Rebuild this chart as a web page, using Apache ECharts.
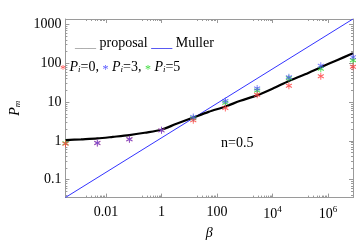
<!DOCTYPE html>
<html><head><meta charset="utf-8">
<script src="https://cdn.jsdelivr.net/npm/echarts@6/dist/echarts.min.js"></script>
<style>html,body{margin:0;padding:0;background:#fff}#c{width:356px;height:245px}</style>
</head><body><div id="c"></div>
<script>
// ---- data (real values) ----
const betaPts = [3.5e-4, 4.9e-3, 0.07, 1, 14, 200, 2800, 3.9e4, 5.5e5, 7.9e6];
const pRed   = [0.85, 0.88, 1.1, 1.87, 3.42, 7.0, 15.5, 26.3, 46, 81];
const pGreen = [0.87, null, null, null, 3.83, 9.6, 19.8, 41.3, 72.6, 120];
const pBlue  = [null, 0.88, 1.1, 1.87, 4.12, 10.6, 22.5, 43.7, 86, 144];
const betaCurve = [3.5e-4, 1.26e-3, 4.9e-3, 0.0178, 0.07, 0.25, 1, 3.3, 14, 50, 200, 700, 2800, 1e4, 3.9e4, 1.5e5, 5.5e5, 2e6, 7.9e6];
const pCurve    = [1.05, 1.1, 1.16, 1.27, 1.41, 1.62, 1.94, 2.72, 4.0, 5.6, 7.7, 10.8, 14.9, 22, 35, 52, 79, 118, 180];
const mullerBeta = [3.5e-4, 7.9e6];
const mullerP    = [0.035, 1380];
const xTickLabels = ['0.01', '1', '100', '10{sup|4}', '10{sup|6}'];
const xTickVals = [0.01, 1, 100, 1e4, 1e6];
const yTickLabels = ['0.1', '1', '10', '100', '1000'];
const yTickVals = [0.1, 1, 10, 100, 1000];

const L = Math.log10;
const XMIN = -3.46, XMAX = 6.9, YMIN = -1.46, YMAX = 3.14;
const xMaj = xTickVals.map(L);
const yMaj = yTickVals.map(L);
const xMin = [], yMin = [];
xMaj.forEach(d => { for (let k = 2; k <= 9; k++) { const v = d - 1 + L(k); if (v > XMIN && v < XMAX) xMin.push(v); } });
for (let d = -2; d <= 3; d++) for (let k = 2; k <= 9; k++) { const v = d + L(k); if (v > YMIN && v < YMAX) yMin.push(v); }

const FONT = 'Liberation Serif';
const AX = '#9a9a9a';
function xl(v) { const i = xMaj.findIndex(m => Math.abs(m - v) < 1e-6); return i < 0 ? '' : xTickLabels[i]; }
function yl(v) { const i = yMaj.findIndex(m => Math.abs(m - v) < 1e-6); return i < 0 ? '' : yTickLabels[i]; }

function xa(pos, vals, len, line, opts) {
  return Object.assign({
    type: 'value', position: pos, min: XMIN, max: XMAX,
    splitLine: { show: false },
    axisLine: { show: line, onZero: false, lineStyle: { color: AX, width: 1 } },
    axisTick: { show: true, inside: true, length: len, customValues: vals, lineStyle: { color: AX } },
    axisLabel: { show: false }
  }, opts || {});
}
function ya(pos, vals, len, line, opts) {
  return Object.assign({
    type: 'value', position: pos, min: YMIN, max: YMAX,
    splitLine: { show: false },
    axisLine: { show: line, onZero: false, lineStyle: { color: AX, width: 1 } },
    axisTick: { show: true, inside: true, length: len, customValues: vals, lineStyle: { color: AX } },
    axisLabel: { show: false }
  }, opts || {});
}

const star = 'path://M0,-5L0,5M-4.33,-2.5L4.33,2.5M-4.33,2.5L4.33,-2.5';
function pts(ys) { return betaPts.map((b, i) => ys[i] == null ? null : [L(b), L(ys[i])]).filter(p => p); }
function scat(ys, c, op) {
  return { type: 'scatter', xAxisIndex: 0, yAxisIndex: 0, symbol: star, symbolSize: [6, 7], data: pts(ys),
    itemStyle: { color: 'transparent', borderColor: c, borderWidth: 1, opacity: op }, z: 5, silent: true };
}

const chart = echarts.init(document.getElementById('c'), null, { renderer: 'canvas' });
chart.setOption({
  animation: false,
  textStyle: { fontFamily: FONT },
  grid: { left: 52, top: 19, right: 3, bottom: 39, containLabel: false },
  title: [
    { left: 75, top: 36, padding: 0, text: '{g|___} proposal {b|___} Muller',
      textStyle: { fontFamily: FONT, fontSize: 14, fontWeight: 'normal', color: '#000',
        rich: { g: { color: '#999999', fontFamily: FONT, fontSize: 14 }, b: { color: '#2222ee', fontFamily: FONT, fontSize: 14 } } } },
    { left: 60, top: 58, padding: 0, text: '{r|*} {i|P}{s|i}=0, {bl|*} {i|P}{s|i}=3, {gr|*} {i|P}{s|i}=5',
      textStyle: { fontFamily: FONT, fontSize: 14, fontWeight: 'normal', color: '#000',
        rich: {
          r: { color: '#ff5555', fontSize: 12, padding: [6, 0, 0, 0], fontFamily: FONT },
          bl: { color: '#5555ff', fontSize: 12, padding: [6, 0, 0, 0], fontFamily: FONT },
          gr: { color: '#44dd44', fontSize: 12, padding: [6, 0, 0, 0], fontFamily: FONT },
          i: { fontStyle: 'italic', fontSize: 14, fontFamily: FONT },
          s: { fontStyle: 'italic', fontSize: 9, padding: [6, 0, 0, 0], fontFamily: FONT }
        } } },
    { left: 221, top: 136, padding: 0, text: 'n=0.5', textStyle: { fontFamily: FONT, fontSize: 14, fontWeight: 'normal', color: '#000' } }
  ],
  xAxis: [
    xa('bottom', xMaj, 4, true, {
      axisLabel: { show: true, customValues: xMaj, margin: 8, color: '#000', fontFamily: FONT, fontSize: 14,
        formatter: v => xl(v), rich: { sup: { fontSize: 9, verticalAlign: 'top', padding: [0, 0, 8, 0], fontFamily: FONT } } },
      name: 'β', nameLocation: 'middle', nameGap: 28,
      nameTextStyle: { fontFamily: FONT, fontStyle: 'italic', fontSize: 14, color: '#000' }
    }),
    xa('bottom', xMin, 2, false),
    xa('top', xMaj, 4, true),
    xa('top', xMin, 2, false)
  ],
  yAxis: [
    ya('left', yMaj, 4, true, {
      axisLabel: { show: true, customValues: yMaj, margin: 4, color: '#000', fontFamily: FONT, fontSize: 14, formatter: v => yl(v) },
      name: '{i|P}{s|m}', nameLocation: 'middle', nameGap: 42, nameRotate: 90,
      nameTextStyle: { fontFamily: FONT, fontSize: 14, color: '#000',
        rich: { i: { fontStyle: 'italic', fontSize: 14, fontFamily: FONT }, s: { fontStyle: 'italic', fontSize: 9, padding: [6, 0, 0, 0], fontFamily: FONT } } }
    }),
    ya('left', yMin, 2, false),
    ya('right', yMaj, 4, true),
    ya('right', yMin, 2, false)
  ],
  series: [
    { type: 'line', xAxisIndex: 0, yAxisIndex: 0, data: mullerBeta.map((b, i) => [L(b), L(mullerP[i])]),
      showSymbol: false, lineStyle: { color: '#3333ff', width: 1 }, z: 2, clip: true, silent: true },
    { type: 'line', xAxisIndex: 0, yAxisIndex: 0, data: betaCurve.map((b, i) => [L(b), L(pCurve[i])]),
      smooth: 0.3, showSymbol: false, lineStyle: { color: '#000', width: 2.2 }, z: 3, clip: true, silent: true },
    scat(pGreen, '#33dd33', 0.85),
    scat(pRed, '#ff4444', 0.85),
    scat(pBlue, '#4444ff', 0.7)
  ]
});
</script></body></html>
